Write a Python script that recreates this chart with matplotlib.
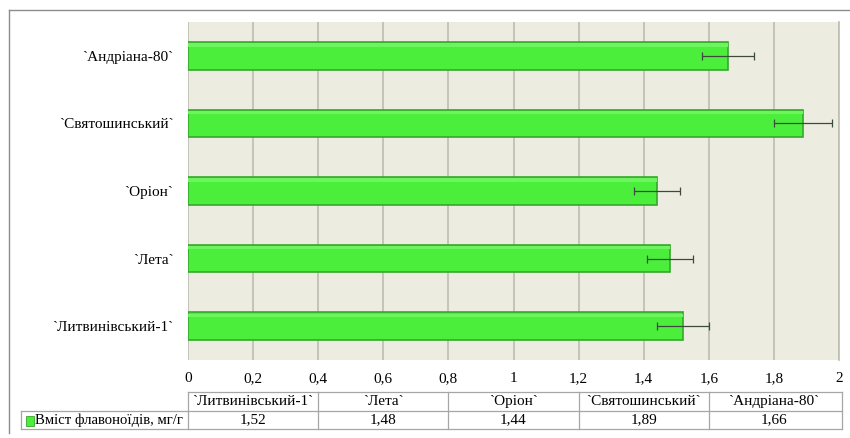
import numpy as np
import matplotlib.pyplot as plt
from matplotlib.lines import Line2D
from matplotlib.patches import Rectangle
import matplotlib.transforms as mtransforms
from matplotlib.ticker import FuncFormatter

plt.rcParams['font.family'] = ['Liberation Serif', 'DejaVu Serif']

# Data (bottom to top as drawn)
cultivars = ['`Литвинівський-1`', '`Лета`', '`Оріон`', '`Святошинський`', '`Андріана-80`']
flavonoids = [1.52, 1.48, 1.44, 1.89, 1.66]
errors = [0.08, 0.07, 0.07, 0.09, 0.08]
series_name = 'Вміст флавоноїдів, мг/г'
xticks = [0, 0.2, 0.4, 0.6, 0.8, 1.0, 1.2, 1.4, 1.6, 1.8, 2.0]

bar_color = '#4CEE3C'
edge_color = '#36A82A'
grid_color = '#BDBDB0'
bg_color = '#ECEDE0'
line_color = '#A6A6A6'

fig = plt.figure(figsize=(8.5, 4.38), dpi=100)
ax = fig.add_axes([188 / 850, 1 - 360 / 438, 651 / 850, 338 / 438])
ax.set_facecolor(bg_color)

y = np.arange(len(cultivars))
ax.barh(y, flavonoids, height=0.41, color=bar_color, edgecolor=edge_color,
        linewidth=1.2, zorder=3)
# light top highlight on the bars
ax.barh(y + 0.16, flavonoids, height=0.05, color='#6CF55C', linewidth=0, zorder=4)
ax.errorbar(flavonoids, y, xerr=errors, fmt='none', ecolor='#3C4A3C',
            elinewidth=0.9, capsize=3, capthick=0.9, zorder=5)

ax.set_xlim(0, 2)
ax.set_ylim(-0.5, len(cultivars) - 0.5)
ax.set_xticks(xticks)
ax.xaxis.set_major_formatter(FuncFormatter(lambda v, p: ('%g' % v).replace('.', ',')))
ax.set_yticks(y)
ax.set_yticklabels(cultivars)
ax.tick_params(axis='both', length=0, labelsize=11)
ax.tick_params(axis='x', pad=9)
ax.tick_params(axis='y', pad=10.5)
ax.grid(axis='x', color=grid_color, linewidth=1.2, zorder=0)
ax.set_axisbelow(True)
for s in ['top', 'bottom', 'left']:
    ax.spines[s].set_visible(False)
ax.spines['right'].set_color(grid_color)
ax.spines['right'].set_linewidth(1.2)

# data table under the axis
tr = mtransforms.blended_transform_factory(ax.transData, ax.transAxes)
def fy(py):
    return (360 - py) / 338.0

y_top, y_mid, y_bot = fy(392), fy(411), fy(429)
x_left, x_right = -167 / 325.5, 2.01
col_edges = [0, 0.4, 0.8, 1.2, 1.6]

def hline(x0, x1, yy):
    ax.add_line(Line2D([x0, x1], [yy, yy], transform=tr, color=line_color,
                       linewidth=0.9, clip_on=False))

def vline(xx, y0, y1):
    ax.add_line(Line2D([xx, xx], [y0, y1], transform=tr, color=line_color,
                       linewidth=0.9, clip_on=False))

hline(0, x_right, y_top)
hline(x_left, x_right, y_mid)
hline(x_left, x_right, y_bot)
vline(x_left, y_mid, y_bot)
for xe in col_edges:
    vline(xe, y_top, y_bot)
vline(x_right, y_top, y_bot)

for i, (name, val) in enumerate(zip(cultivars, flavonoids)):
    xc = col_edges[i] + 0.2
    ax.text(xc, (y_top + y_mid) / 2, name, transform=tr, ha='center', va='center', fontsize=11)
    ax.text(xc, (y_mid + y_bot) / 2, ('%.2f' % val).replace('.', ','), transform=tr,
            ha='center', va='center', fontsize=11)

ax.add_patch(Rectangle((x_left + 0.014, y_mid - 0.043), 0.025, 0.027, transform=tr,
                       facecolor=bar_color, edgecolor=edge_color, linewidth=0.6, clip_on=False))
ax.text(x_left + 0.043, (y_mid + y_bot) / 2, series_name, transform=tr,
        ha='left', va='center', fontsize=10.6)

# outer chart frame (top and left visible)
fig.add_artist(Line2D([9 / 850, 1.0], [1 - 10 / 438, 1 - 10 / 438], color='#8C8C8C', linewidth=1.0))
fig.add_artist(Line2D([9 / 850, 9 / 850], [1 - 10 / 438, 1 - 433 / 438], color='#8C8C8C', linewidth=1.0))

fig.savefig('out.png', dpi=100)
